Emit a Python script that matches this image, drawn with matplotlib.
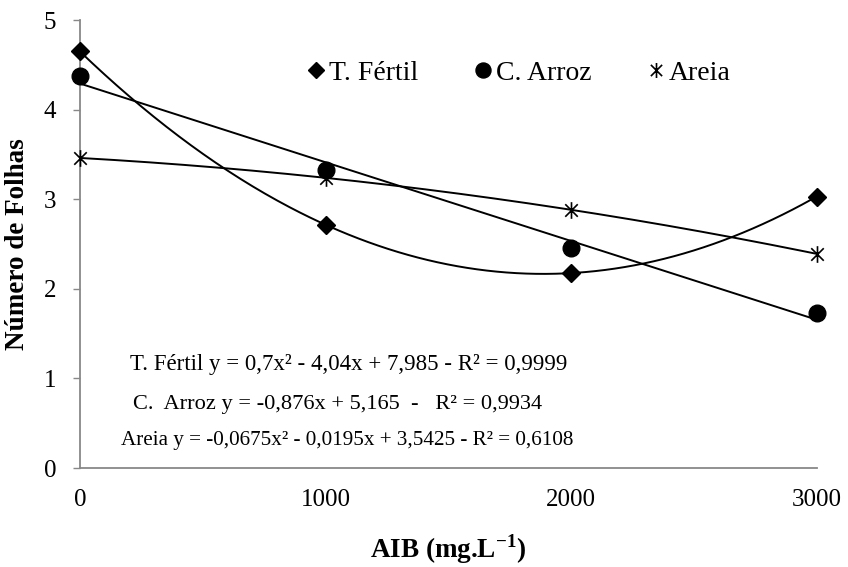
import numpy as np
import matplotlib
matplotlib.use("Agg")
import matplotlib.pyplot as plt
from matplotlib.path import Path

plt.rcParams.update({
    "font.family": "serif",
    "font.serif": ["Liberation Serif", "DejaVu Serif"],
    "mathtext.fontset": "custom",
    "mathtext.rm": "Liberation Serif",
    "mathtext.bf": "Liberation Serif:bold",
})

# data
aib = [0, 1000, 2000, 3000]
t_fertil = [4.65, 2.71, 2.18, 3.03]
c_arroz = [4.37, 3.33, 2.46, 1.73]
areia = [3.46, 3.24, 2.88, 2.39]
series_names = ["T. Fértil", "C. Arroz", "Areia"]
equations = [
    "T. Fértil y = 0,7x\u00b2 - 4,04x + 7,985 - R\u00b2 = 0,9999",
    "C.  Arroz y = -0,876x + 5,165  -   R\u00b2 = 0,9934",
    "Areia y = -0,0675x\u00b2 - 0,0195x + 3,5425 - R\u00b2 = 0,6108",
]

# Excel-style asterisk: vertical bar plus an X
asterisk = Path(
    [(0, -1), (0, 1), (-0.75, -0.75), (0.75, 0.75), (-0.75, 0.75), (0.75, -0.75)],
    [Path.MOVETO, Path.LINETO, Path.MOVETO, Path.LINETO, Path.MOVETO, Path.LINETO],
)

fig = plt.figure(figsize=(8.48, 5.67), dpi=100)
ax = fig.add_axes([0.0943, 0.1746, 0.8691, 0.7901])

xs = np.linspace(0, 3000, 300)
fits = [(t_fertil, 2), (c_arroz, 1), (areia, 2)]
for vals, deg in fits:
    coef = np.polyfit(aib, vals, deg)
    ax.plot(xs, np.polyval(coef, xs), color="black", linewidth=1.4, zorder=2)

ax.plot(aib, t_fertil, linestyle="none", marker="D", markersize=9.5,
        color="black", clip_on=False, zorder=3, label=series_names[0])
ax.plot(aib, c_arroz, linestyle="none", marker="o", markersize=12,
        color="black", clip_on=False, zorder=3, label=series_names[1])
ax.plot(aib, areia, linestyle="none", marker=asterisk, markersize=12,
        markeredgewidth=1.2, color="black", clip_on=False, zorder=3,
        label=series_names[2])

ax.set_xlim(0, 3000)
ax.set_ylim(0, 5)
ax.set_xticks(aib)
ax.set_yticks(range(6))
ax.tick_params(axis="x", length=0, pad=15, labelsize=18)
ax.tick_params(axis="y", length=5, width=1, color="#888888", pad=12, labelsize=18)

for s in ["top", "right"]:
    ax.spines[s].set_visible(False)
for s in ["left", "bottom"]:
    ax.spines[s].set_color("#888888")
    ax.spines[s].set_linewidth(1.3)

ax.set_xlabel("AIB (mg.L$^{\\mathbf{-1}}$)", fontsize=19.5, fontweight="bold", labelpad=15)
ax.set_ylabel("Número de Folhas", fontsize=19.5, fontweight="bold", labelpad=10)

leg = ax.legend(loc="center", bbox_to_anchor=(0.597, 0.882), ncol=3, frameon=False,
                fontsize=20, handlelength=0.5, handletextpad=0.2, columnspacing=2.1,
                markerscale=0.9)

eq_pos = [(0.068, 0.23), (0.072, 0.141), (0.056, 0.0625)]
eq_sizes = [16.5, 16.1, 15.2]
for (tx, ty), eq, fs in zip(eq_pos, equations, eq_sizes):
    ax.text(tx, ty, eq, transform=ax.transAxes, fontsize=fs, va="center", ha="left")

fig.savefig("out.png", dpi=100)
